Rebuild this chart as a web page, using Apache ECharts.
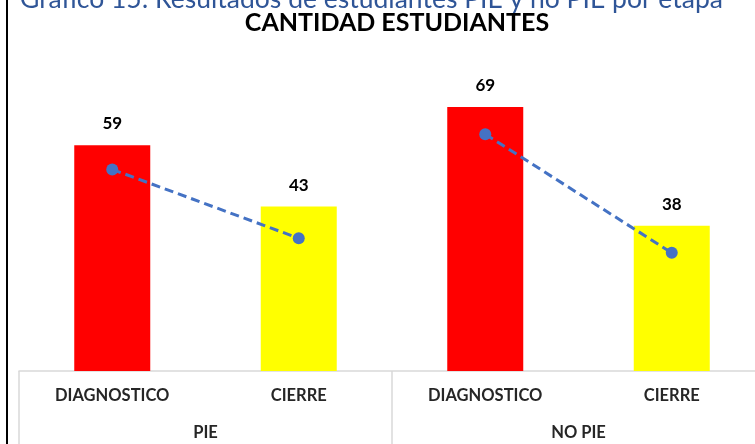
<!DOCTYPE html>
<html>
<head>
<meta charset="utf-8">
<script src="https://cdn.jsdelivr.net/npm/echarts@6/dist/echarts.min.js"></script>
<style>
  html, body { margin: 0; padding: 0; background: #fff; }
  #chart { width: 755px; height: 444px; }
</style>
</head>
<body>
<div id="chart"></div>
<script>
// stages and groups
const stages = ['DIAGNOSTICO', 'CIERRE', 'DIAGNOSTICO', 'CIERRE']
const groups = ['PIE', 'NO PIE']
const students = [59, 43, 69, 38]
// dashed trend points, one segment per group
const trendPie = [52.7, 34.7, '-', '-']
const trendNoPie = ['-', '-', 61.9, 30.9]

const barColors = ['#ff0000', '#ffff00']
const font = 'Lato, "Open Sans", sans-serif'

const chart = echarts.init(document.getElementById('chart'))

const lineSeries = data => ({
    type: 'line',
    data,
    xAxisIndex: 0,
    symbol: 'circle',
    symbolSize: 12,
    itemStyle: { color: '#4472c4' },
    lineStyle: { color: '#4472c4', width: 3, type: [9, 5] },
    z: 5,
    animation: false,
})

chart.setOption({
    animation: false,
    title: {
        text: 'CANTIDAD ESTUDIANTES',
        left: 392,
        top: 5,
        textAlign: 'center',
        textStyle: { fontFamily: font, fontWeight: 'bold', fontSize: 25, color: '#000' },
    },
    graphic: [
        {
            type: 'text',
            left: 20,
            top: -14,
            style: {
                text: 'Gráfico 15: Resultados de estudiantes PIE y no PIE por etapa',
                font: '26.5px ' + font,
                fill: '#2f5597',
            },
        },
        {
            type: 'rect',
            left: 6,
            top: 0,
            shape: { width: 2, height: 444 },
            style: { fill: '#000' },
        },
    ],
    grid: { left: 19, width: 746, top: 65, bottom: 73, outerBoundsMode: 'none' },
    xAxis: [
        {
            type: 'category',
            data: stages,
            axisLine: { lineStyle: { color: '#d9d9d9', width: 1.5 } },
            axisTick: { show: false },
            axisLabel: {
                margin: 16,
                fontFamily: font,
                fontWeight: 'bold',
                fontSize: 16.5,
                color: '#262626',
            },
        },
        {
            type: 'category',
            data: groups,
            position: 'bottom',
            axisLine: { show: false },
            axisTick: { show: true, length: 75, lineStyle: { color: '#d9d9d9', width: 1.5 } },
            axisLabel: {
                margin: 53,
                fontFamily: font,
                fontWeight: 'bold',
                fontSize: 16.5,
                color: '#262626',
            },
        },
    ],
    yAxis: { type: 'value', min: 0, max: 80, show: false, splitLine: { show: false } },
    series: [
        {
            type: 'bar',
            data: students,
            xAxisIndex: 0,
            barWidth: 76,
            itemStyle: { color: p => barColors[p.dataIndex % 2] },
            label: {
                show: true,
                position: 'top',
                distance: 13,
                fontFamily: font,
                fontWeight: 'bold',
                fontSize: 17,
                color: '#000',
            },
        },
        lineSeries(trendPie),
        lineSeries(trendNoPie),
    ],
})
</script>
</body>
</html>
